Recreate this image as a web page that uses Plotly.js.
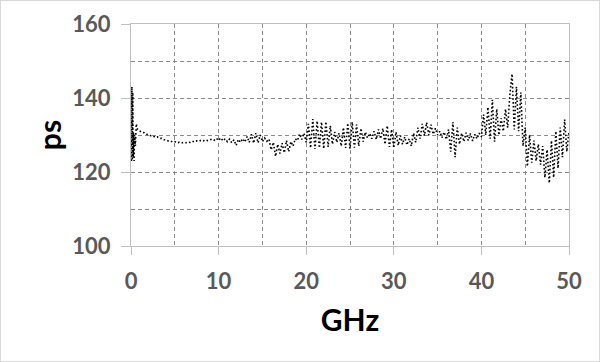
<!DOCTYPE html>
<html>
<head>
<meta charset="utf-8">
<script src="https://cdn.plot.ly/plotly-3.0.1.min.js"></script>
<style>
html,body{margin:0;padding:0;background:#fff;}
#chart{width:598px;height:360px;border:1px solid #d9d9d9;}
</style>
</head>
<body>
<div id="chart"></div>
<script>
// Frequency samples (GHz)
const freqGHz = [
  0.05,0.1,0.15,0.2,0.25,0.3,0.35,0.4,0.5,0.6,0.75,
  1,1.25,1.5,1.75,2,2.25,2.5,2.75,3,3.25,3.5,3.75,4,4.25,4.5,4.75,
  5,5.25,5.5,5.75,6,6.25,6.5,6.75,7,7.25,7.5,7.75,8,8.25,8.5,8.75,
  9,9.25,9.5,9.75,10,10.25,10.5,10.75,11,11.25,11.5,11.75,12,12.25,12.5,12.75,
  13,13.25,13.5,13.75,14,14.25,14.5,14.75,15,15.25,15.5,15.75,16,16.25,16.5,16.75,
  17,17.25,17.5,17.75,18,18.25,18.5,18.75,19,19.25,19.5,19.75,20,20.25,20.5,20.75,
  21,21.25,21.5,21.75,22,22.25,22.5,22.75,23,23.25,23.5,23.75,24,24.25,24.5,24.75,
  25,25.25,25.5,25.75,26,26.25,26.5,26.75,27,27.25,27.5,27.75,28,28.25,28.5,28.75,
  29,29.25,29.5,29.75,30,30.25,30.5,30.75,31,31.25,31.5,31.75,32,32.25,32.5,32.75,
  33,33.25,33.5,33.75,34,34.25,34.5,34.75,35,35.25,35.5,35.75,36,36.25,36.5,36.75,
  37,37.25,37.5,37.75,38,38.25,38.5,38.75,39,39.25,39.5,39.75,40,40.25,40.5,40.75,
  41,41.25,41.5,41.75,42,42.25,42.5,42.75,43,43.25,43.5,43.75,44,44.25,44.5,44.75,
  45,45.25,45.5,45.75,46,46.25,46.5,46.75,47,47.25,47.5,47.75,48,48.25,48.5,48.75,
  49,49.25,49.5,49.75,50
];

// Group delay (ps)
const delayPs = [
  123.0,143.0,123.2,141.5,124.0,130.5,123.0,130.0,127.0,133.0,131.5,
  131.0,130.7,130.6,130.2,130.1,129.8,129.8,129.4,129.5,129.1,129.1,128.7,128.7,128.4,128.4,128.1,
  128.2,127.9,128.0,127.8,128.0,127.9,128.1,128.0,128.3,128.1,128.4,128.3,128.6,128.4,128.7,128.5,
  128.7,128.9,128.6,129.1,128.5,129.2,128.4,129.0,128.2,128.9,127.9,128.7,127.2,128.8,128.0,129.0,
  128.1,129.6,128.0,130.2,127.8,130.5,127.9,130.0,128.2,129.2,128.3,128.9,126.0,128.0,124.2,127.5,
  125.0,127.8,125.2,128.5,125.5,128.2,127.0,129.0,128.5,130.3,128.8,130.5,128.0,133.0,126.5,134.3,
  126.2,133.8,126.5,133.5,126.3,133.6,126.8,132.5,127.5,130.8,128.0,130.5,127.0,132.0,126.5,133.2,
  126.3,133.5,126.6,132.8,127.0,131.8,128.2,130.8,129.2,130.4,129.0,131.0,128.8,131.5,129.0,131.8,
  127.5,132.5,126.8,131.5,126.5,130.8,127.2,129.8,127.5,129.5,127.3,129.0,127.0,130.5,128.0,132.0,
  129.0,133.0,129.8,133.4,130.0,132.8,130.2,131.8,130.0,131.0,129.3,130.8,128.8,131.5,125.5,133.5,
  124.0,132.0,127.5,130.5,128.2,130.6,128.5,130.4,128.4,130.2,129.0,130.5,129.5,135.5,130.0,137.5,
  129.0,139.5,128.2,137.0,130.0,134.5,131.0,137.0,132.0,141.0,146.5,131.5,143.0,131.0,141.5,127.0,
  132.0,121.5,130.0,122.5,128.5,123.0,127.5,122.0,127.0,118.5,126.0,117.0,128.5,118.5,131.0,121.0,
  132.0,124.0,134.2,125.5,131.0
];

const xTitle = "GHz";
const yTitle = "ps";

const gridColor = "#8a8a8a";
const axisColor = "#bfbfbf";
const labelColor = "#595959";

const trace = {
  x: freqGHz,
  y: delayPs,
  type: "scatter",
  mode: "lines",
  line: {color: "#000000", width: 1.6, dash: "1.6px,2.2px"},
  hoverinfo: "skip"
};

const layout = {
  width: 598,
  height: 360,
  margin: {l: 130, r: 30, t: 22.5, b: 114.5, pad: 0},
  paper_bgcolor: "#ffffff",
  plot_bgcolor: "#ffffff",
  showlegend: false,
  font: {family: "Lato, 'Open Sans', sans-serif", color: labelColor},
  xaxis: {
    range: [0, 50],
    dtick: 10,
    tick0: 0,
    showgrid: true,
    gridcolor: gridColor,
    griddash: "4px,3px",
    gridwidth: 1,
    minor: {dtick: 5, showgrid: true, gridcolor: gridColor, griddash: "4px,3px", gridwidth: 1, ticks: ""},
    showline: true,
    linecolor: axisColor,
    linewidth: 1,
    mirror: true,
    ticks: "outside",
    ticklen: 8,
    tickcolor: axisColor,
    tickfont: {size: 22, family: "Lato", weight: "bold", color: labelColor},
    ticklabelstandoff: 8,
    zeroline: false,
    fixedrange: true,
    title: {text: xTitle, font: {size: 30, family: "Lato", weight: "bold", color: "#000000"}, standoff: 16}
  },
  yaxis: {
    range: [100, 160],
    dtick: 20,
    tick0: 100,
    showgrid: true,
    gridcolor: gridColor,
    griddash: "4px,3px",
    gridwidth: 1,
    minor: {dtick: 10, showgrid: true, gridcolor: gridColor, griddash: "4px,3px", gridwidth: 1, ticks: ""},
    showline: true,
    linecolor: axisColor,
    linewidth: 1,
    mirror: true,
    ticks: "outside",
    ticklen: 9,
    tickcolor: axisColor,
    tickfont: {size: 22, family: "Lato", weight: "bold", color: labelColor},
    ticklabelstandoff: 6,
    zeroline: false,
    fixedrange: true,
    title: {text: yTitle, font: {size: 30, family: "Lato", weight: "bold", color: "#000000"}, standoff: 1}
  }
};

Plotly.newPlot("chart", [trace], layout, {staticPlot: true, displayModeBar: false});
</script>
</body>
</html>
